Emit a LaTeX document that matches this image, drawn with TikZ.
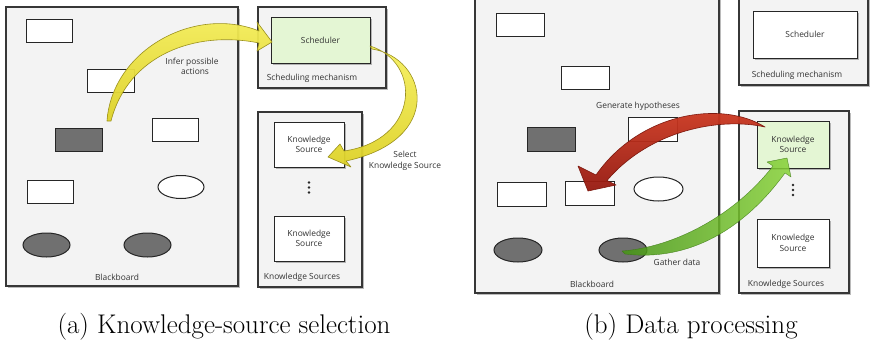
\documentclass[tikz,border=0pt]{standalone}
\usepackage{fontspec}
\newfontfamily\diagfont{Open Sans}
\usetikzlibrary{shapes.geometric,shadows}

\definecolor{panelfill}{RGB}{243,243,243}
\definecolor{panelline}{RGB}{55,55,55}
\definecolor{darkshape}{RGB}{112,112,112}
\definecolor{selgreen}{RGB}{228,246,212}
\definecolor{ylwlight}{RGB}{246,240,95}
\definecolor{ylwdark}{RGB}{222,210,40}
\definecolor{ylwedge}{RGB}{150,140,25}
\definecolor{redlight}{RGB}{210,60,35}
\definecolor{reddark}{RGB}{150,25,15}
\definecolor{rededge}{RGB}{120,20,10}
\definecolor{grnlight}{RGB}{135,210,55}
\definecolor{grndark}{RGB}{70,150,20}
\definecolor{grnedge}{RGB}{60,120,20}

\tikzset{
  shadowed/.style={drop shadow={shadow xshift=1.5pt, shadow yshift=-1.5pt, opacity=0.45, fill=black!60}},
  panel/.style={rectangle, draw=panelline, fill=panelfill, line width=1.1pt, inner sep=0pt, shadowed},
  box/.style={rectangle, draw=black!85, fill=white, line width=1pt, inner sep=0pt},
  darkbox/.style={box, fill=darkshape},
  oval/.style={ellipse, draw=black!85, fill=white, line width=1pt, inner sep=0pt},
  darkoval/.style={oval, fill=darkshape},
  lbl/.style={font=\diagfont\fontsize{8.4}{10.5}\selectfont, text=black!80, align=center, inner sep=0pt},
  ksbox/.style={box, shadowed, minimum width=70, minimum height=45, lbl},
  dotmark/.style={circle, fill=black!85, inner sep=0pt, minimum size=2.6},
  caption/.style={font=\fontsize{27}{31}\selectfont, anchor=base, inner sep=0pt},
  yarrow/.style={top color=ylwlight, bottom color=ylwdark, draw=ylwedge, line width=0.6pt, line join=round, opacity=0.95},
  rarrow/.style={top color=redlight, bottom color=reddark, draw=rededge, line width=0.6pt, line join=round, opacity=0.95},
  garrow/.style={left color=grndark, right color=grnlight, draw=grnedge, line width=0.4pt, line join=round, opacity=0.85}
}

\begin{document}
\begin{tikzpicture}[x=1pt,y=-1pt]
\useasboundingbox (0,0) rectangle (870,340);

% ---------- (a) knowledge-source selection ----------
\node[panel, minimum width=232, minimum height=279] (bbA) at (122,146.5) {};
\node[panel, minimum width=128, minimum height=81] (smA) at (322,47.5) {};
\node[panel, minimum width=104, minimum height=175] (ksA) at (310,199.5) {};

\node[box, shadowed, fill=selgreen, minimum width=99, minimum height=46, lbl] (schedA) at (320.5,40) {Scheduler};
\node[ksbox] (ksA1) at (309,144.5) {Knowledge\\Source};
\node[ksbox] (ksA2) at (309,238.5) {Knowledge\\Source};
\node[dotmark] (dA1) at (309,182.5) {};
\node[dotmark] (dA2) at (309,187.5) {};
\node[dotmark] (dA3) at (309,192.5) {};

\node[box, minimum width=46, minimum height=23] (a1) at (49,30.5) {};
\node[box, minimum width=47, minimum height=23] (a2) at (110.5,80.5) {};
\node[box, minimum width=46, minimum height=23] (a3) at (175,129.5) {};
\node[darkbox, minimum width=47, minimum height=23] (a4) at (78.5,139.5) {};
\node[box, minimum width=46, minimum height=23] (a5) at (50,191.5) {};
\node[oval, minimum width=46, minimum height=23] (a6) at (181,187) {};
\node[darkoval, minimum width=47, minimum height=24] (a7) at (46.5,245) {};
\node[darkoval, minimum width=47, minimum height=24] (a8) at (147.5,245) {};

\node[lbl] (bbAlbl) at (117,277) {Blackboard};
\node[lbl] (smAlbl) at (312,78) {Scheduling mechanism};
\node[lbl] (ksAlbl) at (302,277) {Knowledge Sources};

% infer possible actions
\path[yarrow] (107,121) .. controls (112,50) and (195,5) .. (259,31) -- (257,22) -- (272,42)
  -- (257,51) -- (259,43) .. controls (195,30) and (128,55) .. (111,121) -- cycle;
\node[lbl] (inferlbl) at (192,66.5) {Infer possible\\\hspace*{6pt}actions};

% select knowledge source
\path[yarrow] (370,46) .. controls (422,62) and (420,140) .. (344,151) -- (340,144) -- (328,157)
  -- (351,167) -- (346,161) .. controls (445,140) and (428,58) .. (372,49) -- cycle;
\node[lbl] (selectlbl) at (405,161) {Select\\Knowledge Source};

\node[caption] (capA) at (224,333) {(a) Knowledge-source selection};

% ---------- (b) data processing ----------
\node[panel, minimum width=244, minimum height=295] (bbB) at (597,145.5) {};
\node[panel, minimum width=129, minimum height=87] (smB) at (803.5,41.5) {};
\node[panel, minimum width=110, minimum height=182] (ksB) at (794,202) {};

\node[box, shadowed, minimum width=104, minimum height=47, lbl] (schedB) at (805,34.5) {Scheduler};
\node[ksbox, fill=selgreen, minimum width=72, minimum height=47] (ksB1) at (793,144.5) {Knowledge\\Source};
\node[ksbox, minimum width=72, minimum height=48] (ksB2) at (793,243) {Knowledge\\Source};
\node[dotmark] (dB1) at (793,185) {};
\node[dotmark] (dB2) at (793,190) {};
\node[dotmark] (dB3) at (793,195) {};

\node[box, minimum width=48, minimum height=23] (b1) at (520,24.5) {};
\node[box, minimum width=48, minimum height=23] (b2) at (585,77.5) {};
\node[box, minimum width=49, minimum height=24] (b3) at (652.5,129) {};
\node[darkbox, minimum width=48, minimum height=24] (b4) at (551,139) {};
\node[box, minimum width=49, minimum height=24] (b5) at (521.5,194) {};
\node[box, minimum width=49, minimum height=24] (b6) at (589.5,193) {};
\node[oval, minimum width=49, minimum height=24] (b7) at (658.5,189) {};
\node[darkoval, minimum width=48, minimum height=24] (b8) at (518,250) {};
\node[darkoval, minimum width=48, minimum height=24] (b9) at (623,250) {};

\node[lbl] (bbBlbl) at (592,284) {Blackboard};
\node[lbl] (smBlbl) at (797,75) {Scheduling mechanism};
\node[lbl] (ksBlbl) at (786,284) {Knowledge Sources};
\node[lbl] (genlbl) at (638,106) {Generate hypotheses};

% generate hypotheses
\path[rarrow] (765,127) .. controls (722,100) and (640,112) .. (596,175) -- (578,166) -- (588,191)
  -- (616,185) -- (607,180.5) .. controls (650,130) and (720,117) .. (765,127) -- cycle;

% gather data
\path[garrow] (622,251) .. controls (675,247) and (735,215) .. (773,166) -- (767,162) -- (787,158)
  -- (791,177) -- (785,173) .. controls (745,228) and (690,262) .. (625,254) -- cycle;
\node[lbl] (gatherlbl) at (677,262) {Gather data};

\node[caption] (capB) at (691,333) {(b) Data processing};
\end{tikzpicture}
\end{document}
